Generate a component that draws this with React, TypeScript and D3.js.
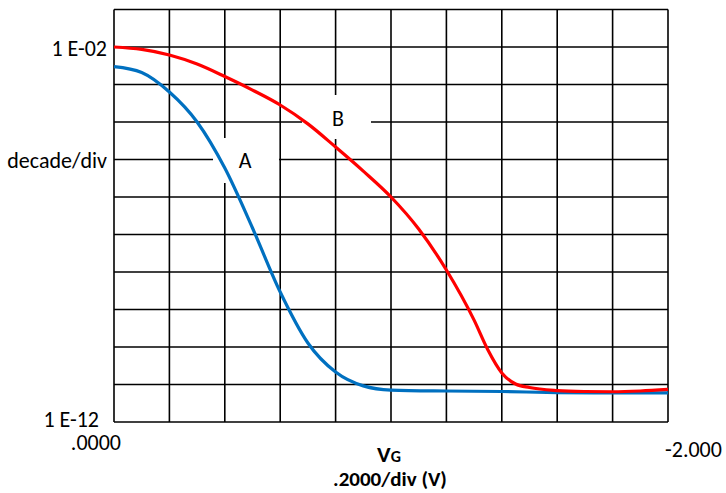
import React from "react";
import * as d3 from "d3";

// Gate voltage (V) and drain current (A) for curve A (blue) and curve B (red)
const curveAVg = [0, -0.1, -0.2, -0.3, -0.4, -0.5, -0.6, -0.7, -0.8, -0.9, -1.0, -1.2, -1.4, -1.6, -1.8, -2.0];
const curveAId = [2.99e-3, 2.09e-3, 6.3e-4, 1.0e-4, 5.9e-6, 1.49e-7, 2.93e-9, 1.28e-10, 2.15e-11, 9.2e-12, 7.1e-12, 6.7e-12, 6.5e-12, 6.1e-12, 6.0e-12, 6.0e-12];

const curveBVg = [0, -0.1, -0.2, -0.3, -0.4, -0.5, -0.6, -0.7, -0.8, -0.9, -1.0, -1.1, -1.2, -1.3, -1.35, -1.4, -1.45, -1.5, -1.6, -1.7, -1.8, -1.9, -2.0];
const curveBId = [1.0e-2, 8.6e-3, 6.1e-3, 3.5e-3, 1.63e-3, 7.1e-4, 2.84e-4, 8.9e-5, 2.15e-5, 4.9e-6, 1.0e-6, 1.4e-7, 1.13e-8, 5.2e-10, 8.3e-11, 2.03e-11, 1.03e-11, 8.3e-12, 6.9e-12, 6.5e-12, 6.4e-12, 6.7e-12, 7.4e-12];

const xGridVg = [0, -0.2, -0.4, -0.6, -0.8, -1.0, -1.2, -1.4, -1.6, -1.8, -2.0];
const yGridExp = [-12, -11, -10, -9, -8, -7, -6, -5, -4, -3, -2, -1];

const yTopLabel = "1 E-02";
const yBottomLabel = "1 E-12";
const yUnitLabel = "decade/div";
const xLeftLabel = ".0000";
const xRightLabel = "-2.000";
const xUnitLabel = ".2000/div (V)";

const W = 726;
const H = 493;
const FONT = "Carlito, Lato, 'Open Sans', sans-serif";

export default function App() {
  const x = d3.scaleLinear().domain([0, -2]).range([114, 668]);
  const y = d3.scaleLog().domain([1e-12, 1e-1]).range([422, 9.5]);

  const line = d3
    .line<[number, number]>()
    .x((d) => x(d[0]))
    .y((d) => y(d[1]))
    .curve(d3.curveMonotoneX);

  const dataA = curveAVg.map((v, i) => [v, curveAId[i]] as [number, number]);
  const dataB = curveBVg.map((v, i) => [v, curveBId[i]] as [number, number]);

  const x0 = x(0), x1 = x(-2);
  const y0 = y(1e-12), y1 = y(1e-1);

  return (
    <div style={{ position: "absolute", left: 0, top: 0 }}>
      <svg width={W} height={H} style={{ display: "block", background: "#fff" }} fontFamily={FONT}>
        <rect x={0} y={0} width={W} height={H} fill="#fff" />
        {/* grid */}
        {xGridVg.map((v) => (
          <line key={"vx" + v} x1={x(v)} x2={x(v)} y1={y1} y2={y0} stroke="#000" strokeWidth={1.6} />
        ))}
        {yGridExp.map((e) => (
          <line key={"hy" + e} x1={x0} x2={x1} y1={y(Math.pow(10, e))} y2={y(Math.pow(10, e))} stroke="#000" strokeWidth={1.6} />
        ))}
        {/* label boxes */}
        <rect x={213} y={138} width={66} height={45} fill="#fff" />
        <rect x={302} y={95} width={69} height={44} fill="#fff" />
        <text x={245} y={168} fontSize={22} textAnchor="middle" fill="#000">A</text>
        <text x={338} y={126} fontSize={22} textAnchor="middle" fill="#000">B</text>
        {/* curves */}
        <path d={line(dataA) || ""} fill="none" stroke="#0070C0" strokeWidth={3.2} strokeLinejoin="round" />
        <path d={line(dataB) || ""} fill="none" stroke="#FF0000" strokeWidth={3.2} strokeLinejoin="round" />
        {/* axis texts */}
        <text x={107} y={56} fontSize={22} textAnchor="end">{yTopLabel}</text>
        <text x={107} y={168} fontSize={22} textAnchor="end">{yUnitLabel}</text>
        <text x={99} y={427} fontSize={22} textAnchor="end">{yBottomLabel}</text>
        <text x={121} y={450} fontSize={22} textAnchor="end">{xLeftLabel}</text>
        <text x={665} y={457} fontSize={22} textAnchor="start">{xRightLabel}</text>
        <text x={389} y={462} fontSize={23} fontWeight="bold" textAnchor="middle">
          V<tspan fontSize={16}>G</tspan>
        </text>
        <text x={390} y={486} fontSize={21} fontWeight="bold" textAnchor="middle">{xUnitLabel}</text>
      </svg>
    </div>
  );
}
